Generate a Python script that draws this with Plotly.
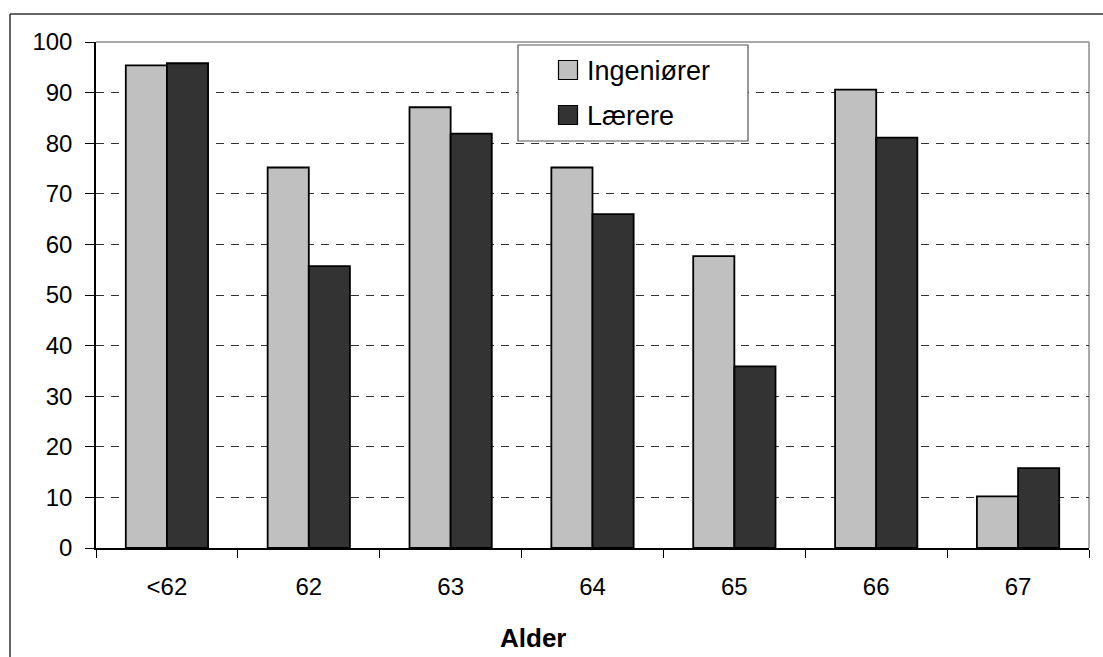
import plotly.graph_objects as go

# Age groups and share (%) for each profession
alder = ["<62", "62", "63", "64", "65", "66", "67"]
ingeniorer = [95.4, 75.2, 87.1, 75.2, 57.7, 90.6, 10.2]
laerere = [95.8, 55.7, 81.9, 66.0, 35.9, 81.1, 15.8]
serie_navne = ["Ingeniører", "Lærere"]
serie_farver = ["#C0C0C0", "#333333"]

W, H = 1103, 657
L, R, T, B = 96, 14, 42, 109
PW, PH = W - L - R, H - T - B


def px(x):
    return (x - L) / PW


def py(y):
    return (H - B - y) / PH


FONT = "Arial, Liberation Sans, sans-serif"

fig = go.Figure()
for navn, vals, farve in zip(serie_navne, [ingeniorer, laerere], serie_farver):
    fig.add_trace(go.Bar(
        x=alder, y=vals, name=navn,
        marker=dict(color=farve, line=dict(color="#000000", width=1.8)),
        showlegend=False,
    ))

shapes = [
    # outer chart frame (left and top edges)
    dict(type="line", xref="paper", yref="paper", x0=px(10), x1=px(10), y0=py(14), y1=py(700),
         line=dict(color="#333333", width=1.5)),
    dict(type="line", xref="paper", yref="paper", x0=px(10), x1=px(1110), y0=py(14), y1=py(14),
         line=dict(color="#333333", width=1.5)),
    # plot area border: grey top and right
    dict(type="line", xref="paper", yref="paper", x0=0, x1=1, y0=1, y1=1,
         line=dict(color="#8c8c8c", width=1.5), layer="below"),
    dict(type="line", xref="paper", yref="paper", x0=1, x1=1, y0=0, y1=1,
         line=dict(color="#8c8c8c", width=1.5), layer="below"),
    # legend frame
    dict(type="rect", xref="paper", yref="paper", x0=px(518), x1=px(748), y0=py(45), y1=py(141),
         fillcolor="white", line=dict(color="#555555", width=1.2), layer="above"),
]

annotations = []
leg_rows = [70, 115]
for navn, farve, yc in zip(serie_navne, serie_farver, leg_rows):
    shapes.append(dict(type="rect", xref="paper", yref="paper",
                       x0=px(558.5), x1=px(577.5), y0=py(yc - 9.5), y1=py(yc + 9.5),
                       fillcolor=farve, line=dict(color="#000000", width=1.2), layer="above"))
    annotations.append(dict(text=navn, xref="paper", yref="paper", x=px(585), y=py(yc + 1),
                            xanchor="left", yanchor="middle", showarrow=False,
                            font=dict(family=FONT, size=27, color="#000000")))

annotations.append(dict(text="<b>Alder</b>", xref="paper", yref="paper", x=px(533), y=py(638),
                        xanchor="center", yanchor="middle", showarrow=False,
                        font=dict(family=FONT, size=26, color="#000000")))

fig.update_layout(
    width=W, height=H,
    margin=dict(l=L, r=R, t=T, b=B),
    paper_bgcolor="white", plot_bgcolor="white",
    barmode="group", bargap=0.42, bargroupgap=0,
    font=dict(family=FONT, size=24, color="#000000"),
    shapes=shapes, annotations=annotations,
    showlegend=False,
)
fig.update_xaxes(
    showline=True, linecolor="#000000", linewidth=1.5,
    ticks="outside", ticklen=8, tickcolor="#000000", tickwidth=1,
    tickson="boundaries", showgrid=False,
    ticklabelstandoff=16,
    tickfont=dict(family=FONT, size=24),
)
fig.update_yaxes(
    range=[0, 100], dtick=10, tick0=0,
    showline=True, linecolor="#000000", linewidth=1.5,
    ticks="outside", ticklen=9, tickcolor="#000000", tickwidth=1,
    showgrid=True, gridcolor="#333333", gridwidth=1, griddash="8px,7px",
    zeroline=False, ticklabelstandoff=8,
    tickfont=dict(family=FONT, size=24),
)

fig.write_html("out.html")
